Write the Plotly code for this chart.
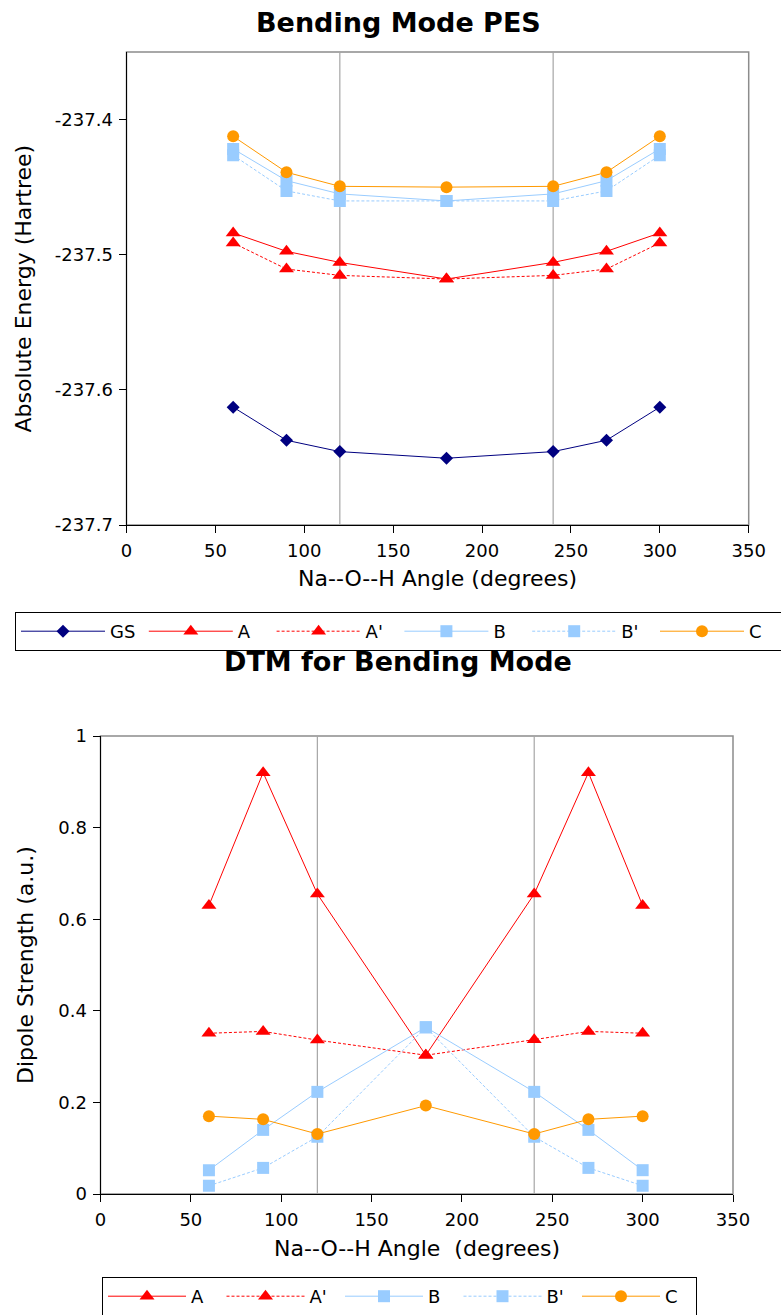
import plotly.graph_objects as go

W, H = 781, 1315

angles = [60, 90, 120, 180, 240, 270, 300]
divider_angles = [120, 240]

# Bending Mode PES (Hartree)
pes_gs = [-237.6128, -237.6373, -237.6457, -237.6506, -237.6457, -237.6373, -237.6128]
pes_a = [-237.4839, -237.4975, -237.5057, -237.5180, -237.5057, -237.4975, -237.4839]
pes_a_p = [-237.4913, -237.5106, -237.5153, -237.5180, -237.5153, -237.5106, -237.4913]
pes_b = [-237.4217, -237.4452, -237.4550, -237.4602, -237.4550, -237.4452, -237.4217]
pes_b_p = [-237.4264, -237.4528, -237.4602, -237.4602, -237.4602, -237.4528, -237.4264]
pes_c = [-237.4124, -237.4390, -237.4494, -237.4500, -237.4494, -237.4390, -237.4124]
pes_ticks = [-237.7, -237.6, -237.5, -237.4]
pes_tick_labels = ["-237.7", "-237.6", "-237.5", "-237.4"]

# DTM for Bending Mode (a.u.)
dtm_a = [0.630, 0.920, 0.655, 0.303, 0.655, 0.920, 0.630]
dtm_a_p = [0.351, 0.355, 0.336, 0.303, 0.337, 0.355, 0.351]
dtm_b = [0.052, 0.140, 0.223, 0.364, 0.223, 0.140, 0.052]
dtm_b_p = [0.018, 0.057, 0.125, 0.364, 0.125, 0.057, 0.018]
dtm_c = [0.170, 0.163, 0.131, 0.193, 0.131, 0.163, 0.170]

FONT = "DejaVu Sans"
NAVY, RED, BLUE, ORANGE = "#000080", "#FF0000", "#99CCFF", "#FF9900"
DASH = "3px,2px"

styles = {
    "GS": dict(color=NAVY, symbol="diamond", size=10, dash="solid"),
    "A": dict(color=RED, symbol="triangle-up", size=13, dash="solid"),
    "A'": dict(color=RED, symbol="triangle-up", size=13, dash=DASH),
    "B": dict(color=BLUE, symbol="square", size=12, dash="solid"),
    "B'": dict(color=BLUE, symbol="square", size=12, dash=DASH),
    "C": dict(color=ORANGE, symbol="circle", size=12, dash="solid"),
}


def px_x(p):
    return p / W


def px_y(p):
    return 1 - p / H


fig = go.Figure()

top_series = [("GS", pes_gs), ("A", pes_a), ("A'", pes_a_p), ("B", pes_b), ("B'", pes_b_p), ("C", pes_c)]
for name, vals in top_series:
    s = styles[name]
    fig.add_trace(go.Scatter(
        x=angles, y=vals, name=name, mode="lines+markers",
        line=dict(color=s["color"], width=1, dash=s["dash"]),
        marker=dict(symbol=s["symbol"], size=s["size"], color=s["color"]),
        xaxis="x", yaxis="y", legend="legend",
    ))

bottom_series = [("A", dtm_a), ("A'", dtm_a_p), ("B", dtm_b), ("B'", dtm_b_p), ("C", dtm_c)]
for name, vals in bottom_series:
    s = styles[name]
    fig.add_trace(go.Scatter(
        x=angles, y=vals, name=name, mode="lines+markers",
        line=dict(color=s["color"], width=1, dash=s["dash"]),
        marker=dict(symbol=s["symbol"], size=s["size"], color=s["color"]),
        xaxis="x2", yaxis="y2", legend="legend2",
    ))

axis_common = dict(
    showgrid=False, zeroline=False, showline=True, linecolor="black", linewidth=1,
    ticks="outside", ticklen=7, tickcolor="black", tickwidth=1, ticklabelstandoff=2,
    tickfont=dict(family=FONT, size=18, color="black"),
)

legend_common = dict(
    orientation="h", xanchor="left", yanchor="top",
    bordercolor="black", borderwidth=1, bgcolor="white",
    font=dict(family=FONT, size=18, color="black"),
    entrywidthmode="pixels",
)

fig.update_layout(
    width=W, height=H, margin=dict(l=0, r=0, t=0, b=0, autoexpand=False),
    paper_bgcolor="white", plot_bgcolor="white",
    xaxis=dict(domain=[px_x(126.5), px_x(748.7)], range=[0, 350], dtick=50, tick0=0,
               anchor="y", **axis_common),
    yaxis=dict(domain=[px_y(525), px_y(52)], range=[-237.7, -237.35],
               tickmode="array", tickvals=pes_ticks, ticktext=pes_tick_labels,
               anchor="x", **axis_common),
    xaxis2=dict(domain=[px_x(100.5), px_x(733)], range=[0, 350], dtick=50, tick0=0,
                anchor="y2", **axis_common),
    yaxis2=dict(domain=[px_y(1194), px_y(736)], range=[0, 1], dtick=0.2, tick0=0,
                anchor="x2", **axis_common),
    legend=dict(x=px_x(15), y=px_y(612), itemwidth=84, entrywidth=28.8, **legend_common),
    legend2=dict(x=px_x(102), y=px_y(1277), itemwidth=78, entrywidth=25.5, **legend_common),
    showlegend=True,
)

# plot frames and vertical reference lines
for xr, yr in (("x", "y"), ("x2", "y2")):
    fig.add_shape(type="rect", xref=f"{xr} domain", yref=f"{yr} domain", x0=0, x1=1, y0=0, y1=1,
                  line=dict(color="#8C8C8C", width=1.5), layer="below")
    for a in divider_angles:
        fig.add_shape(type="line", xref=xr, yref=f"{yr} domain", x0=a, x1=a, y0=0, y1=1,
                      line=dict(color="#A6A6A6", width=1.2), layer="below")

annos = [
    dict(text="<b>Bending Mode PES</b>", x=px_x(398), y=px_y(23), size=27),
    dict(text="<b>DTM for Bending Mode</b>", x=px_x(398), y=px_y(662), size=27),
    dict(text="Na--O--H Angle (degrees)", x=px_x(437.6), y=px_y(578), size=22),
    dict(text="Na--O--H Angle \u00a0(degrees)", x=px_x(417), y=px_y(1248), size=22),
]
for a in annos:
    fig.add_annotation(text=a["text"], x=a["x"], y=a["y"], xref="paper", yref="paper",
                       xanchor="center", yanchor="middle", showarrow=False,
                       font=dict(family=FONT, size=a["size"], color="black"))
for text, x, y in (("Absolute Energy (Hartree)", 23, 288.5), ("Dipole Strength (a.u.)", 26, 965)):
    fig.add_annotation(text=text, x=px_x(x), y=px_y(y), xref="paper", yref="paper",
                       xanchor="center", yanchor="middle", showarrow=False, textangle=-90,
                       font=dict(family=FONT, size=22, color="black"))

fig.write_html("out.html")
